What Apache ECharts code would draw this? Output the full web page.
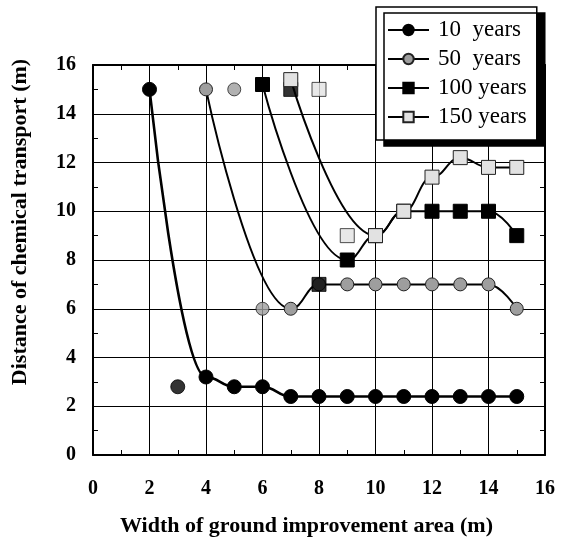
<!DOCTYPE html>
<html>
<head>
<meta charset="utf-8">
<script src="https://cdn.jsdelivr.net/npm/echarts@6/dist/echarts.min.js"></script>
<style>
html,body{margin:0;padding:0;background:#fff;}
#chart{width:561px;height:549px;}
</style>
</head>
<body>
<div id="chart"></div>
<script>
// Width of ground improvement area (m)
const widths = [2, 3, 4, 5, 6, 7, 8, 9, 10, 11, 12, 13, 14, 15];
// Distance of chemical transport (m) per series (null = no point)
const y10  = [15, 2.8, 3.2, 2.8, 2.8, 2.4, 2.4, 2.4, 2.4, 2.4, 2.4, 2.4, 2.4, 2.4];
const y50  = [null, null, 15, 15, 6, 6, 7, 7, 7, 7, 7, 7, 7, 6];
const y100 = [null, null, null, null, 15.2, 15, 7, 8, 9, 10, 10, 10, 10, 9];
const y150 = [null, null, null, null, null, 15.4, 15, 9, 9, 10, 11.4, 12.2, 11.8, 11.8];
// widths whose points are plotted but not joined by the curve
const unjoined10  = [3];
const unjoined50  = [5, 6];
const unjoined100 = [7, 8];
const unjoined150 = [8, 9];
const seriesNames = ['10  years', '50  years', '100 years', '150 years'];
const xTicks = [0, 2, 4, 6, 8, 10, 12, 14, 16];
const yTicks = [0, 2, 4, 6, 8, 10, 12, 14, 16];

const FONT = 'Liberation Serif';

function joined(vals, skip) {
  const out = [];
  widths.forEach((w, i) => {
    if (vals[i] != null && skip.indexOf(w) < 0) out.push([w, vals[i]]);
  });
  return out;
}
function loose(vals, skip) {
  const out = [];
  widths.forEach((w, i) => {
    if (vals[i] != null && skip.indexOf(w) >= 0) out.push([w, vals[i]]);
  });
  return out;
}

const styles = [
  {symbol: 'circle', size: 14, item: {color: '#000', borderColor: '#000', borderWidth: 1}, lw: 2.6},
  {symbol: 'circle', size: 13, item: {color: '#9e9e9e', borderColor: '#222', borderWidth: 1}, lw: 2},
  {symbol: 'rect', size: 14, item: {color: '#000', borderColor: '#000', borderWidth: 1}, lw: 2},
  {symbol: 'rect', size: 14, item: {color: '#e2e2e2', borderColor: '#222', borderWidth: 1}, lw: 2}
];
const allVals = [y10, y50, y100, y150];
const allSkip = [unjoined10, unjoined50, unjoined100, unjoined150];

const series = [];
allVals.forEach((vals, k) => {
  const st = styles[k];
  series.push({
    name: seriesNames[k],
    type: 'line',
    data: joined(vals, allSkip[k]),
    smooth: 0.45,
    smoothMonotone: 'x',
    symbol: st.symbol,
    symbolSize: st.size,
    itemStyle: st.item,
    lineStyle: {color: '#000', width: st.lw},
    z: 2 + k,
    animation: false
  });
  series.push({
    name: seriesNames[k] + ' (unjoined)',
    type: 'scatter',
    data: loose(vals, allSkip[k]),
    symbol: st.symbol,
    symbolSize: st.size,
    itemStyle: st.item,
    z: 2 + k,
    animation: false
  });
});

const axisCommon = {
  min: 0, max: 16, interval: 2,
  axisLine: {show: true, onZero: false, lineStyle: {color: '#000', width: 2}},
  axisTick: {show: true, inside: true, length: 5, lineStyle: {color: '#000', width: 1}},
  minorTick: {show: true, splitNumber: 2, length: 5, lineStyle: {color: '#000', width: 1}},
};

const option = {
  backgroundColor: '#fff',
  animation: false,
  grid: {left: 93, right: 16, top: 65, bottom: 94, containLabel: false},
  legend: {
    data: seriesNames,
    orient: 'vertical',
    left: 376, top: 7,
    padding: [11, 10, 11, 11],
    itemWidth: 41, itemHeight: 13,
    itemGap: 5,
    backgroundColor: '#fff',
    borderColor: '#000', borderWidth: 1.5,
    shadowColor: '#000', shadowBlur: 0, shadowOffsetX: 8, shadowOffsetY: 6,
    textStyle: {fontFamily: FONT, fontSize: 23, color: '#000', lineHeight: 24, padding: [0, 0, 0, 4]},
    z: 10
  },
  xAxis: [
    Object.assign({}, axisCommon, {
      type: 'value', position: 'bottom',
      name: 'Width of ground improvement area (m)',
      nameLocation: 'middle', nameGap: 60,
      nameTextStyle: {fontFamily: FONT, fontSize: 22, fontWeight: 'bold', color: '#000', padding: [0, 25, 0, 0]},
      splitLine: {show: true, lineStyle: {color: '#000', width: 1}},
      axisLabel: {show: true, margin: 24, fontFamily: FONT, fontSize: 20, fontWeight: 'bold', color: '#000',
        formatter: v => (xTicks.indexOf(v) >= 0 ? String(v) : '')}
    }),
    Object.assign({}, axisCommon, {
      type: 'value', position: 'top',
      splitLine: {show: false}, axisLabel: {show: false}
    })
  ],
  yAxis: [
    Object.assign({}, axisCommon, {
      type: 'value', position: 'left',
      name: 'Distance of chemical transport (m)',
      nameLocation: 'middle', nameGap: 62,
      nameTextStyle: {fontFamily: FONT, fontSize: 22, fontWeight: 'bold', color: '#000', padding: [0, 0, 0, 76]},
      splitLine: {show: true, lineStyle: {color: '#000', width: 1}},
      axisLabel: {show: true, margin: 17, fontFamily: FONT, fontSize: 20, fontWeight: 'bold', color: '#000',
        formatter: v => (yTicks.indexOf(v) >= 0 ? String(v) : '')}
    }),
    Object.assign({}, axisCommon, {
      type: 'value', position: 'right',
      splitLine: {show: false}, axisLabel: {show: false}
    })
  ],
  series: series
};

const chart = echarts.init(document.getElementById('chart'), null, {renderer: 'canvas'});
chart.setOption(option);
</script>
</body>
</html>
